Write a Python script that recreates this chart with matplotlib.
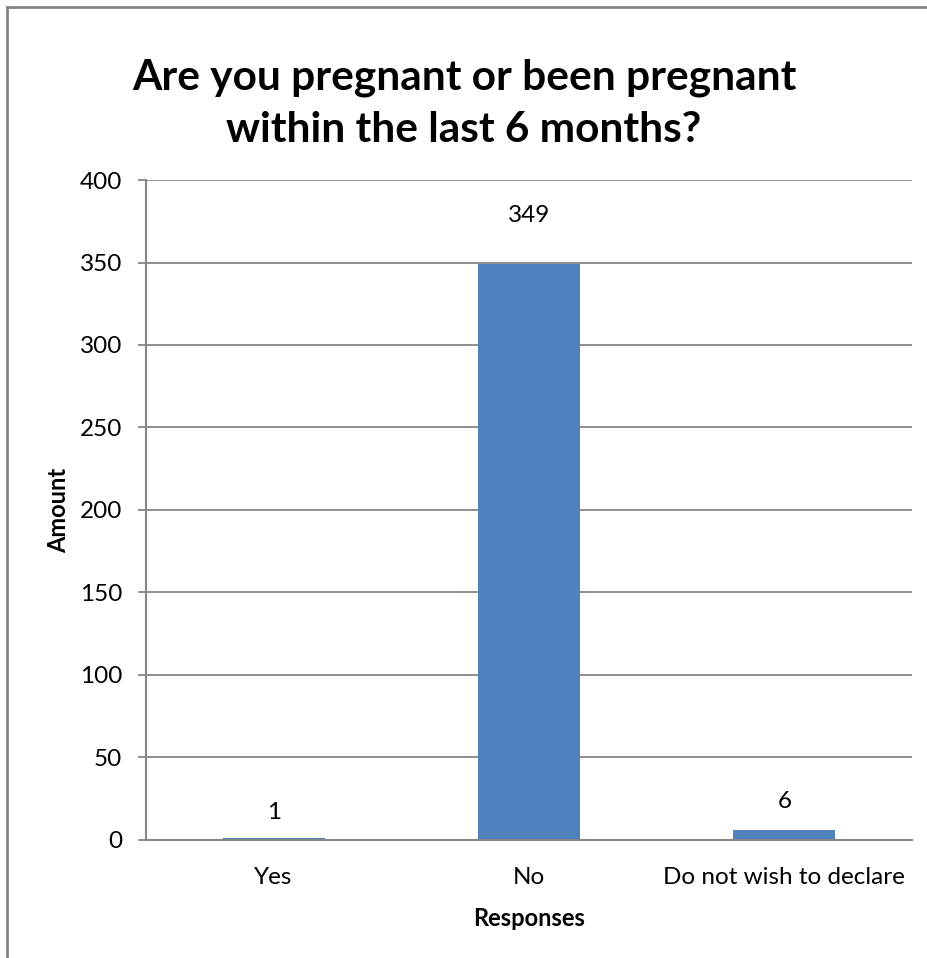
import matplotlib as mpl
mpl.use('Agg')
import matplotlib.pyplot as plt
from matplotlib.lines import Line2D

## Survey counts
categories = ["Yes", "No", "Do not wish to declare"]
amounts = [1, 349, 6]
yticks = [0, 50, 100, 150, 200, 250, 300, 350, 400]

title = "Are you pregnant or been pregnant\nwithin the last 6 months?"

plt.rcParams['font.family'] = ['Lato', 'DejaVu Sans']

fig = plt.figure(figsize=(9.28, 9.58), dpi=100)
ax = fig.add_axes([0.1573, 0.1232, 0.8255, 0.6889])

grey = '#868686'
x = range(len(categories))
ax.bar(x, amounts, width=0.4, color='#4f81bd', zorder=3)

# value labels, pixel offset above each bar
label_offsets = [26, 49, 29]
for xi, v, off in zip(x, amounts, label_offsets):
    ax.annotate(str(v), (xi, v), xytext=(0, off), textcoords='offset pixels',
                ha='center', va='center', fontsize=17.5)

ax.set_xlim(-0.5, len(categories) - 0.5)
ax.set_ylim(0, 400)
ax.set_yticks(yticks)
ax.set_xticks(list(x))
ax.set_xticklabels(categories, fontsize=17.5)
ax.tick_params(axis='y', labelsize=17.5, length=6, width=1.3, color=grey, pad=11)
ax.tick_params(axis='x', length=0, pad=19.5)

ax.grid(axis='y', color=grey, linewidth=1.3, zorder=0)
for s in ['top', 'right']:
    ax.spines[s].set_visible(False)
for s in ['left', 'bottom']:
    ax.spines[s].set_color(grey)
    ax.spines[s].set_linewidth(1.5)
    ax.spines[s].set_zorder(4)

ax.set_ylabel("Amount", fontsize=17, fontweight='bold', labelpad=7)
ax.set_xlabel("Responses", fontsize=17, fontweight='bold', labelpad=13.5)

fig.text(0.5, 0.892, title, ha='center', va='center', fontsize=30.5,
         fontweight='bold', linespacing=1.45)

# chart area border (only left and top edges fall inside the image)
fig.add_artist(Line2D([7 / 928, 7 / 928], [0, 1 - 7 / 958], transform=fig.transFigure,
                      color=grey, linewidth=2))
fig.add_artist(Line2D([7 / 928, 1], [1 - 7 / 958, 1 - 7 / 958], transform=fig.transFigure,
                      color=grey, linewidth=2))

fig.savefig("out.png", dpi=100)
